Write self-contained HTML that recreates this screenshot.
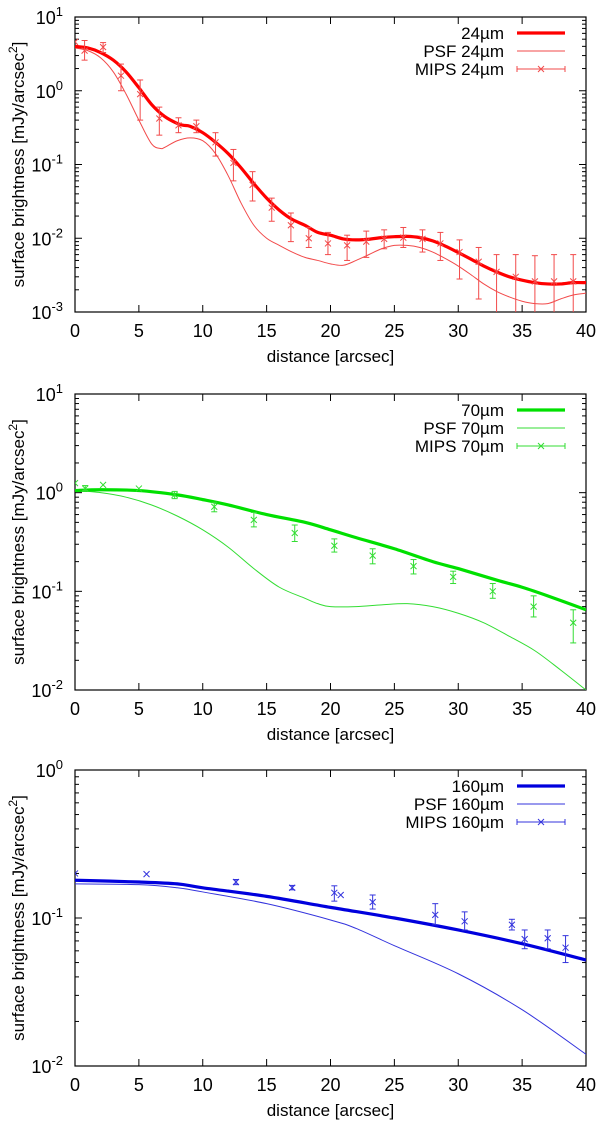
<!DOCTYPE html>
<html><head><meta charset="utf-8"><style>
body{margin:0;background:#fff;}
svg text{font-family:"Liberation Sans",sans-serif;fill:#000;}
</style></head><body>
<svg id="chart" width="600" height="1122" viewBox="0 0 600 1122" xmlns="http://www.w3.org/2000/svg"></svg>
<script>
// ---- data: 24um ----
const x24Model=[0,1,2,3,4,5,6,7,8,8.5,9,10,11,12,13,14,15,16,17,18,19,20,21,22,23,24,25,26,27,28,29,30,31,32,33,34,35,36,37,38,39,40];
const y24Model=[4.0,3.8,3.3,2.6,1.8,1.1,0.65,0.45,0.36,0.34,0.33,0.27,0.2,0.14,0.09,0.055,0.035,0.024,0.018,0.015,0.012,0.011,0.0098,0.0095,0.0097,0.0102,0.0105,0.0106,0.0102,0.0092,0.0078,0.0064,0.0052,0.0042,0.0035,0.003,0.0027,0.0025,0.0024,0.0024,0.0025,0.0025];
const x24Psf=[0,1,2,3,4,5,6,6.7,7,8,9,10,11,12,13,14,15,16,17,18,19,20,21,22,23,24,25,26,27,28,29,30,31,32,33,34,35,36,37,38,39,40];
const y24Psf=[3.8,3.5,2.8,1.8,0.9,0.4,0.19,0.165,0.17,0.21,0.23,0.21,0.14,0.07,0.03,0.015,0.01,0.008,0.0065,0.0055,0.005,0.0045,0.0043,0.005,0.006,0.0072,0.008,0.008,0.0075,0.0065,0.0053,0.0042,0.0032,0.0024,0.0019,0.0016,0.0014,0.0013,0.0013,0.0015,0.0017,0.0018];
const x24Obs=[0,0.75,2.2,3.6,5.1,6.6,8.1,9.5,11,12.4,13.9,15.4,16.9,18.3,19.8,21.3,22.8,24.2,25.7,27.2,28.6,30.1,31.6,33.0,34.5,36.0,37.5,39.0];
const y24Obs=[4.6,3.5,3.9,1.6,0.9,0.42,0.34,0.33,0.2,0.105,0.053,0.026,0.015,0.01,0.0085,0.008,0.009,0.0098,0.0102,0.0098,0.0085,0.0065,0.0048,0.0035,0.003,0.0026,0.0026,0.0026];
const lo24Obs=[4.6,2.6,3.3,1.0,0.4,0.25,0.27,0.27,0.13,0.06,0.032,0.017,0.009,0.0075,0.006,0.005,0.0055,0.0072,0.0075,0.0065,0.005,0.0028,0.0015,0.0008,0.0008,0.0008,0.0008,0.0008];
const hi24Obs=[4.6,4.8,4.5,2.3,1.4,0.6,0.43,0.4,0.27,0.16,0.08,0.035,0.022,0.014,0.012,0.011,0.0125,0.013,0.014,0.013,0.012,0.0095,0.0075,0.006,0.006,0.0058,0.006,0.006];
// ---- data: 70um ----
const x70Model=[0,2,5,8,10,12,15,18,20,22,25,28,30,33,35,37,40];
const y70Model=[1.05,1.07,1.05,0.95,0.85,0.75,0.6,0.5,0.42,0.35,0.27,0.2,0.17,0.13,0.11,0.09,0.065];
const x70Psf=[0,2,4,6,8,10,12,14,16,18,19,20,22,24,26,28,30,32,34,36,38,40];
const y70Psf=[1.05,1.0,0.9,0.75,0.58,0.42,0.28,0.17,0.11,0.085,0.075,0.07,0.07,0.073,0.075,0.07,0.06,0.048,0.035,0.025,0.016,0.01];
const x70Obs=[0,0.8,2.2,5,7.8,10.9,14,17.2,20.3,23.3,26.5,29.6,32.7,35.9,39];
const y70Obs=[1.25,1.1,1.2,1.1,0.95,0.72,0.53,0.39,0.29,0.23,0.18,0.14,0.1,0.07,0.048];
const lo70Obs=[1.25,1.05,1.2,1.1,0.87,0.64,0.45,0.32,0.25,0.19,0.15,0.12,0.085,0.055,0.03];
const hi70Obs=[1.25,1.18,1.2,1.1,1.03,0.8,0.63,0.47,0.34,0.27,0.21,0.16,0.12,0.09,0.065];
// ---- data: 160um ----
const x160Model=[0,5,8,10,15,20,25,30,35,40];
const y160Model=[0.18,0.175,0.17,0.16,0.14,0.118,0.1,0.083,0.067,0.052];
const x160Psf=[0,5,8,10,15,20,22,25,30,35,40];
const y160Psf=[0.17,0.168,0.16,0.15,0.125,0.097,0.085,0.065,0.042,0.024,0.012];
const x160Obs=[0,5.6,12.6,17,20.3,20.8,23.3,28.2,30.5,34.2,35.2,37,38.4];
const y160Obs=[0.2,0.198,0.175,0.16,0.148,0.143,0.128,0.105,0.095,0.09,0.072,0.073,0.063];
const lo160Obs=[0.2,0.198,0.168,0.155,0.13,0.143,0.115,0.09,0.083,0.083,0.062,0.062,0.05];
const hi160Obs=[0.2,0.198,0.182,0.166,0.165,0.143,0.143,0.125,0.11,0.098,0.083,0.083,0.076];
const xTicks=[0,5,10,15,20,25,30,35,40];

const NS='http://www.w3.org/2000/svg';
const svg=document.getElementById('chart');
function mk(tag,attrs,parent){const e=document.createElementNS(NS,tag);for(const k in attrs)e.setAttribute(k,attrs[k]);(parent||svg).appendChild(e);return e;}

function panel(cfg){
  const L=75,R=586,T=cfg.top,B=cfg.bottom,lmin=cfg.lmin,lmax=cfg.lmax;
  const g=mk('g',{});
  
  
  const sx=v=>L+(v-0)/(40-0)*(R-L);
  const sy=v=>B-(Math.log10(v)-lmin)/(lmax-lmin)*(B-T);
  const clipId='clip'+cfg.name;
  const cp=mk('clipPath',{id:clipId},g);mk('rect',{x:L,y:T,width:R-L,height:B-T},cp);
  const tk=mk('g',{stroke:'#000','stroke-width':1},g);
  
  
  xTicks.forEach(v=>{const x=sx(v);
    mk('line',{x1:x,x2:x,y1:B,y2:B-7},tk);mk('line',{x1:x,x2:x,y1:T,y2:T+7},tk);
    const t=mk('text',{x:x,y:B+25,'text-anchor':'middle','font-size':18},g);t.textContent=v;
    
    
  });
  for(let d=lmin;d<=lmax;d++){
    const y=sy(Math.pow(10,d));
    mk('line',{x1:L,x2:L+7,y1:y,y2:y},tk);mk('line',{x1:R,x2:R-7,y1:y,y2:y},tk);
    const t=mk('text',{x:L-12,y:y+7,'text-anchor':'end','font-size':18},g);
    
    
    t.appendChild(document.createTextNode('10'));
    const s=mk('tspan',{dy:-8,'font-size':13},t);s.textContent=String(d);
    if(d<lmax){for(let m=2;m<=9;m++){const yy=sy(m*Math.pow(10,d));
      mk('line',{x1:L,x2:L+4,y1:yy,y2:yy},tk);mk('line',{x1:R,x2:R-4,y1:yy,y2:yy},tk);}}
  }
  const fr=mk('rect',{x:L,y:T,width:R-L,height:B-T,fill:'none',stroke:'#000','stroke-width':1.2},g);
  
  
  function curve(xs,ys,w,col,name){
    const p=xs.map((x,i)=>[sx(x),sy(ys[i])]);
    let d='M'+p[0][0]+','+p[0][1];
    for(let i=0;i<p.length-1;i++){const p0=p[Math.max(0,i-1)],p1=p[i],p2=p[i+1],p3=p[Math.min(p.length-1,i+2)];
      d+=' C'+(p1[0]+(p2[0]-p0[0])/6)+','+(p1[1]+(p2[1]-p0[1])/6)+' '+(p2[0]-(p3[0]-p1[0])/6)+','+(p2[1]-(p3[1]-p1[1])/6)+' '+p2[0]+','+p2[1];}
    const e=mk('path',{d:d,fill:'none',stroke:col,'stroke-width':w,'clip-path':'url(#'+clipId+')'},g);
    
    
  }
  curve(cfg.xp,cfg.yp,1,cfg.light,cfg.name+'-psf-line');
  curve(cfg.xm,cfg.ym,3.2,cfg.color,cfg.name+'-model-line');
  const og=mk('g',{stroke:cfg.light,'stroke-width':1,'clip-path':'url(#'+clipId+')'},g);
  
  
  cfg.xo.forEach((xv,i)=>{const x=sx(xv),y=sy(cfg.yo[i]),y1=sy(cfg.lo[i]),y2=sy(cfg.hi[i]);
    if(Math.abs(y1-y2)>1){mk('line',{x1:x,x2:x,y1:y1,y2:y2},og);
      mk('line',{x1:x-3,x2:x+3,y1:y1,y2:y1},og);mk('line',{x1:x-3,x2:x+3,y1:y2,y2:y2},og);}
    mk('path',{d:`M${x-3},${y-3}L${x+3},${y+3}M${x-3},${y+3}L${x+3},${y-3}`},og);
  });
  const labels=[cfg.lab,'PSF '+cfg.lab,'MIPS '+cfg.lab];
  labels.forEach((s,i)=>{const y=T+16+i*18;
    const t=mk('text',{x:504,y:y+6,'text-anchor':'end','font-size':17},g);t.textContent=s;
    
    
    if(i<2)mk('line',{x1:517,x2:565,y1:y,y2:y,stroke:i==0?cfg.color:cfg.light,'stroke-width':i==0?3.2:1},g);
    else{mk('line',{x1:517,x2:565,y1:y,y2:y,stroke:cfg.light},g);
      mk('line',{x1:517,x2:517,y1:y-3,y2:y+3,stroke:cfg.light},g);mk('line',{x1:565,x2:565,y1:y-3,y2:y+3,stroke:cfg.light},g);
      mk('path',{d:`M538,${y-3}L544,${y+3}M538,${y+3}L544,${y-3}`,stroke:cfg.light},g);}
  });
  const xt=mk('text',{x:(L+R)/2,y:B+50,'text-anchor':'middle','font-size':17},g);xt.textContent='distance [arcsec]';
  
  
  const cy=(T+B)/2;
  const yt=mk('text',{x:0,y:0,'text-anchor':'middle','font-size':17,transform:`translate(24,${cy}) rotate(-90)`},g);
  
  
  yt.appendChild(document.createTextNode('surface brightness [mJy/arcsec'));
  const sp=mk('tspan',{dy:-7,'font-size':12},yt);sp.textContent='2';
  const sp2=mk('tspan',{dy:7},yt);sp2.textContent=']';
}
panel({name:'24um',top:17,bottom:312,lmin:-3,lmax:1,color:'#ff0000',light:'#f24a4a',lab:'24\u00b5m',xm:x24Model,ym:y24Model,xp:x24Psf,yp:y24Psf,xo:x24Obs,yo:y24Obs,lo:lo24Obs,hi:hi24Obs});
panel({name:'70um',top:394,bottom:690,lmin:-2,lmax:1,color:'#00e000',light:'#33dd33',lab:'70\u00b5m',xm:x70Model,ym:y70Model,xp:x70Psf,yp:y70Psf,xo:x70Obs,yo:y70Obs,lo:lo70Obs,hi:hi70Obs});
panel({name:'160um',top:770,bottom:1066,lmin:-2,lmax:0,color:'#0000dd',light:'#3333dd',lab:'160\u00b5m',xm:x160Model,ym:y160Model,xp:x160Psf,yp:y160Psf,xo:x160Obs,yo:y160Obs,lo:lo160Obs,hi:hi160Obs});
</script>
</body></html>
